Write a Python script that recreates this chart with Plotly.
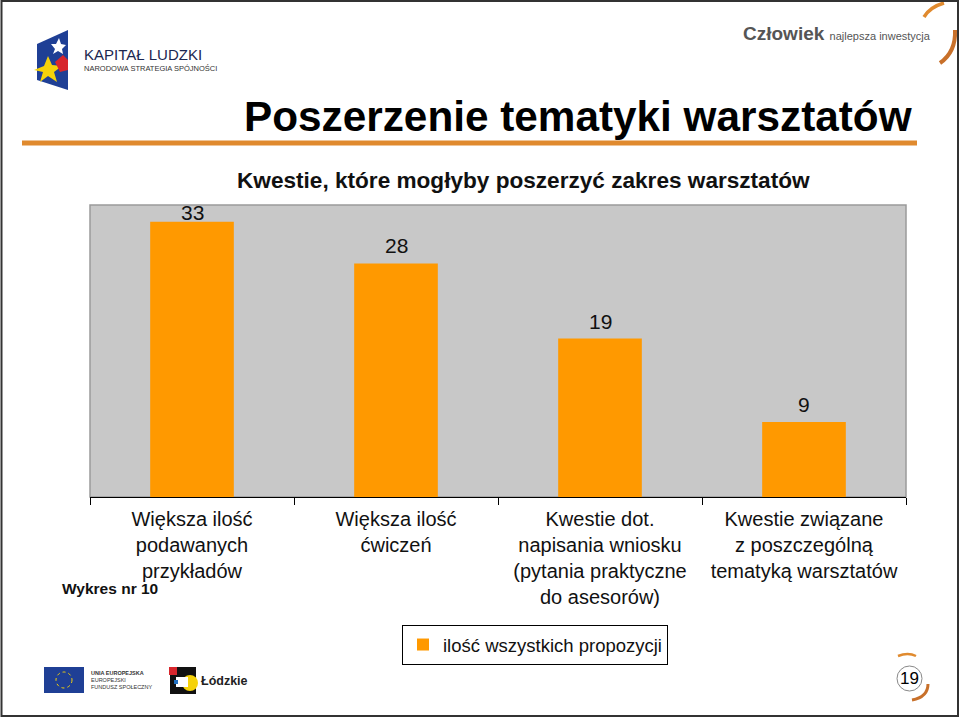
import plotly.graph_objects as go

categories = [
    "Większa ilość<br>podawanych<br>przykładów",
    "Większa ilość<br>ćwiczeń",
    "Kwestie dot.<br>napisania wniosku<br>(pytania praktyczne<br>do asesorów)",
    "Kwestie związane<br>z poszczególną<br>tematyką warsztatów",
]
values = [33, 28, 19, 9]
label_shift = [-4, 4, 3, 4]
series_name = "ilość wszystkich propozycji"

W, H = 960, 718
L, R, T, B = 90, 906, 205, 497
FONT = "Liberation Sans, Arial, sans-serif"


def px(x):
    return (x - L) / (R - L)


def py(y):
    return (B - y) / (B - T)


fig = go.Figure()
fig.add_trace(go.Bar(
    x=categories, y=values, name=series_name,
    marker=dict(color="#ff9900", line=dict(width=0)),
    width=0.41, showlegend=True,
))

shapes = []
annotations = []

# plot border (gray)
shapes.append(dict(type="rect", xref="paper", yref="paper", x0=0, x1=1, y0=0, y1=1,
                   line=dict(color="#9a9a9a", width=1.5), layer="below"))

# data labels
for c, v, s in zip(categories, values, label_shift):
    annotations.append(dict(x=c, y=v, xref="x", yref="y", text=str(v), showarrow=False,
                            yanchor="bottom", yshift=s, font=dict(size=21, color="#111", family=FONT)))

# titles
annotations.append(dict(x=px(914), y=py(117), xref="paper", yref="paper", xanchor="right", yanchor="middle",
                        text="<b>Poszerzenie tematyki warsztatów</b>", showarrow=False,
                        font=dict(size=42.3, color="#000", family=FONT)))
shapes.append(dict(type="line", xref="paper", yref="paper", x0=px(22), x1=px(917), y0=py(143), y1=py(143),
                   line=dict(color="#e08a2e", width=5)))
annotations.append(dict(x=px(523), y=py(180), xref="paper", yref="paper", xanchor="center", yanchor="middle",
                        text="<b>Kwestie, które mogłyby poszerzyć zakres warsztatów</b>", showarrow=False,
                        font=dict(size=22.6, color="#111", family=FONT)))
annotations.append(dict(x=px(60), y=py(588), xref="paper", yref="paper", xanchor="left", yanchor="middle",
                        text="<b>Wykres nr 10</b>", showarrow=False,
                        font=dict(size=15.5, color="#111", family=FONT)))

# Kapitał Ludzki logo
shapes.append(dict(type="path", xref="paper", yref="paper",
                   path=f"M{px(37)},{py(44)} L{px(68)},{py(30)} L{px(68)},{py(90)} L{px(37)},{py(80)} Z",
                   fillcolor="#1f3f95", line=dict(width=0)))
shapes.append(dict(type="path", xref="paper", yref="paper",
                   path=f"M{px(34)},{py(70)} L{px(44)},{py(66)} L{px(48)},{py(56)} L{px(52)},{py(65)} L{px(62)},{py(66)} "
                        f"L{px(54)},{py(72)} L{px(57)},{py(82)} L{px(48)},{py(76)} L{px(40)},{py(82)} L{px(43)},{py(72)} Z",
                   fillcolor="#f5d20a", line=dict(width=0)))
shapes.append(dict(type="path", xref="paper", yref="paper",
                   path=f"M{px(55)},{py(62)} L{px(63)},{py(55)} L{px(68)},{py(60)} L{px(68)},{py(70)} L{px(60)},{py(72)} Z",
                   fillcolor="#d7262c", line=dict(width=0)))
shapes.append(dict(type="path", xref="paper", yref="paper",
                   path=f"M{px(51)},{py(44)} L{px(56)},{py(44)} L{px(59)},{py(38)} L{px(61)},{py(44)} L{px(66)},{py(45)} "
                        f"L{px(62)},{py(49)} L{px(63)},{py(54)} L{px(58)},{py(51)} L{px(53)},{py(54)} L{px(55)},{py(49)} Z",
                   fillcolor="#ffffff", line=dict(width=0)))
annotations.append(dict(x=px(82), y=py(54), xref="paper", yref="paper", xanchor="left", yanchor="middle",
                        text="KAPITAŁ LUDZKI", showarrow=False, font=dict(size=15, color="#1b2650", family=FONT)))
annotations.append(dict(x=px(82), y=py(68), xref="paper", yref="paper", xanchor="left", yanchor="middle",
                        text="NARODOWA STRATEGIA SPÓJNOŚCI", showarrow=False, font=dict(size=7.5, color="#333", family=FONT)))

# Człowiek logo
annotations.append(dict(x=px(741), y=py(33), xref="paper", yref="paper", xanchor="left", yanchor="middle",
                        text="<b>Człowiek</b> <span style='font-size:11px'>najlepsza inwestycja</span>", showarrow=False,
                        font=dict(size=19, color="#555", family=FONT)))
shapes.append(dict(type="path", xref="paper", yref="paper",
                   path=f"M{px(924)},{py(17)} Q{px(930)},{py(7)} {px(944)},{py(3)}",
                   line=dict(color="#e08a2e", width=3.5)))
shapes.append(dict(type="path", xref="paper", yref="paper",
                   path=f"M{px(955)},{py(30)} Q{px(956)},{py(52)} {px(940)},{py(63)}",
                   line=dict(color="#c8702a", width=4)))

# EU logo
shapes.append(dict(type="rect", xref="paper", yref="paper", x0=px(44), x1=px(84), y0=py(693), y1=py(667),
                   fillcolor="#1f3f95", line=dict(width=0)))
shapes.append(dict(type="circle", xref="paper", yref="paper", x0=px(56), x1=px(72), y0=py(688), y1=py(672),
                   line=dict(color="#f5d20a", width=1, dash="dot")))
for i, t in enumerate(["<b>UNIA EUROPEJSKA</b>", "EUROPEJSKI", "FUNDUSZ SPOŁECZNY"]):
    annotations.append(dict(x=px(89), y=py(673 + 7 * i), xref="paper", yref="paper", xanchor="left", yanchor="middle",
                            text=t, showarrow=False, font=dict(size=5.5, color="#333", family=FONT)))

# Łódzkie logo
shapes.append(dict(type="rect", xref="paper", yref="paper", x0=px(170), x1=px(196), y0=py(694), y1=py(667),
                   fillcolor="#111", line=dict(width=0)))
shapes.append(dict(type="rect", xref="paper", yref="paper", x0=px(169), x1=px(177), y0=py(675), y1=py(667),
                   fillcolor="#d7262c", line=dict(width=0)))
shapes.append(dict(type="circle", xref="paper", yref="paper", x0=px(182), x1=px(198), y0=py(691), y1=py(675),
                   fillcolor="#f5d20a", line=dict(width=0)))
shapes.append(dict(type="rect", xref="paper", yref="paper", x0=px(176), x1=px(188), y0=py(687), y1=py(677),
                   fillcolor="#ffffff", line=dict(width=0)))
shapes.append(dict(type="rect", xref="paper", yref="paper", x0=px(174), x1=px(178), y0=py(684), y1=py(680),
                   fillcolor="#1f6fc0", line=dict(width=0)))
annotations.append(dict(x=px(199), y=py(681), xref="paper", yref="paper", xanchor="left", yanchor="middle",
                        text="<b>Łódzkie</b>", showarrow=False, font=dict(size=12.5, color="#222", family=FONT)))

# page number
shapes.append(dict(type="circle", xref="paper", yref="paper", x0=px(897), x1=px(922), y0=py(691), y1=py(666),
                   line=dict(color="#888", width=1)))
annotations.append(dict(x=px(909.5), y=py(678.5), xref="paper", yref="paper", xanchor="center", yanchor="middle",
                        text="19", showarrow=False, font=dict(size=17, color="#000", family=FONT)))
shapes.append(dict(type="path", xref="paper", yref="paper",
                   path=f"M{px(898)},{py(656)} Q{px(908)},{py(652)} {px(916)},{py(656)}",
                   line=dict(color="#e08a2e", width=2.5)))
shapes.append(dict(type="path", xref="paper", yref="paper",
                   path=f"M{px(928)},{py(684)} Q{px(928)},{py(697)} {px(912)},{py(700)}",
                   line=dict(color="#c8702a", width=3)))

# page border
shapes.append(dict(type="rect", xref="paper", yref="paper", x0=px(1.5), x1=px(958), y0=py(716), y1=py(1),
                   line=dict(color="#333", width=2)))

fig.update_layout(
    width=W, height=H,
    margin=dict(l=L, r=W - R, t=T, b=H - B, pad=0),
    paper_bgcolor="#ffffff", plot_bgcolor="#c8c8c8",
    font=dict(family=FONT, color="#111", size=18),
    xaxis=dict(type="category", tickson="boundaries", ticks="outside", ticklen=7, tickcolor="#000",
               tickwidth=1, showline=True, linecolor="#000", linewidth=1, showgrid=False,
               ticklabelstandoff=4,
               tickfont=dict(size=20, family=FONT, color="#111"), fixedrange=True),
    yaxis=dict(range=[0, 35], showticklabels=False, showgrid=False, zeroline=False, ticks="",
               showline=False, fixedrange=True),
    showlegend=True,
    legend=dict(x=px(535), y=py(625), xanchor="center", yanchor="top", orientation="h",
                bgcolor="#ffffff", bordercolor="#000", borderwidth=1,
                font=dict(size=18.5, family=FONT, color="#111"), itemwidth=30),
    shapes=shapes, annotations=annotations,
)

fig.write_html("out.html", config={"displayModeBar": False},
               post_script="document.body.style.margin='0';document.body.style.padding='0';"
                           "document.body.style.overflow='hidden';")
